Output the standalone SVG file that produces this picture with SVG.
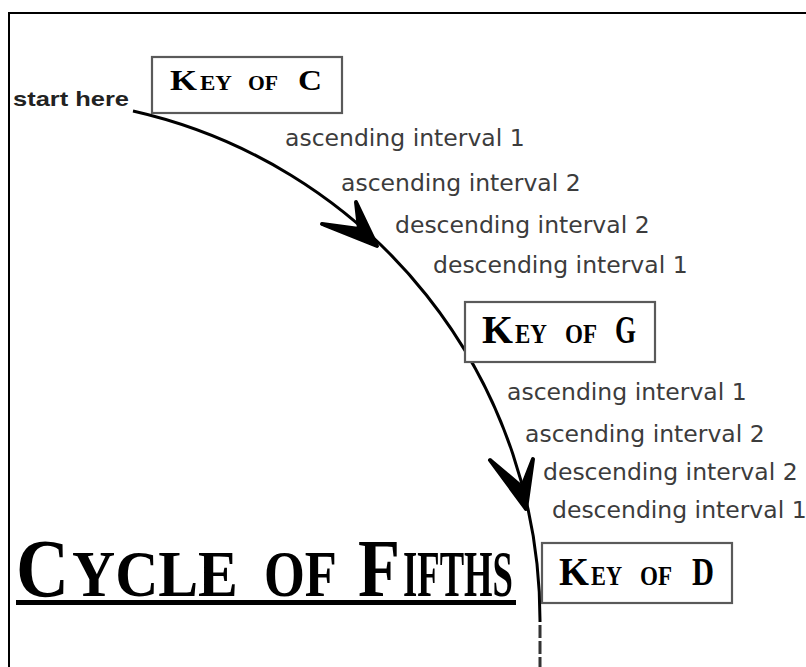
<svg xmlns="http://www.w3.org/2000/svg" width="806" height="667" viewBox="0 0 806 667">
<style>
.frame{fill:none;stroke:#000;stroke-width:2}
.box{fill:#fff;stroke:#5a5a5a;stroke-width:2.2}
.key{font-family:"Liberation Serif",serif;font-weight:bold;fill:#000}
.lbl{font-family:"DejaVu Sans",sans-serif;font-size:23.5px;fill:#3c3c3c}
.start{font-family:"Liberation Sans",sans-serif;font-weight:bold;font-size:21px;fill:#222}
.curve{fill:none;stroke:#000;stroke-width:3}
.dash{fill:none;stroke:#333;stroke-width:3;stroke-dasharray:13 3}
.head{fill:#000;stroke:#000;stroke-width:4;stroke-linejoin:round}
</style>
<rect width="806" height="667" fill="#fff"/>
<path class="frame" d="M9,667 V13 H806"/>
<g id="connectors">
<path class="curve" d="M133,111 A522,522 0 0 1 540,622"/>
<path class="dash" d="M540,625 V667"/>
<path class="head" d="M377,246 L322,224 L359,229 L356,202 Z"/>
<path class="head" d="M526,509 L490,460 L522,487 L533,459 Z"/>
</g>
<g id="start">
<text class="start" x="13" y="106" textLength="116" lengthAdjust="spacingAndGlyphs">start here</text>
</g>
<g id="keyC">
<rect class="box" x="152" y="57" width="190" height="56"/>
<text class="key" x="170" y="90" font-size="30" textLength="27" lengthAdjust="spacingAndGlyphs">K</text>
<text class="key" x="200" y="90" font-size="21" textLength="32" lengthAdjust="spacingAndGlyphs">EY</text>
<text class="key" x="248" y="90" font-size="21" textLength="30" lengthAdjust="spacingAndGlyphs">OF</text>
<text class="key" x="298" y="90" font-size="30" textLength="24" lengthAdjust="spacingAndGlyphs">C</text>
</g>
<g id="keyG">
<rect class="box" x="465" y="302" width="190" height="60"/>
<text class="key" x="482" y="343" font-size="39" textLength="31" lengthAdjust="spacingAndGlyphs">K</text>
<text class="key" x="515" y="343" font-size="28" textLength="32" lengthAdjust="spacingAndGlyphs">EY</text>
<text class="key" x="565" y="343" font-size="28" textLength="32" lengthAdjust="spacingAndGlyphs">OF</text>
<text class="key" x="615" y="343" font-size="39" textLength="21" lengthAdjust="spacingAndGlyphs">G</text>
</g>
<g id="keyD">
<rect class="box" x="542" y="543" width="190" height="60"/>
<text class="key" x="559" y="585" font-size="39" textLength="30" lengthAdjust="spacingAndGlyphs">K</text>
<text class="key" x="591" y="585" font-size="28" textLength="31" lengthAdjust="spacingAndGlyphs">EY</text>
<text class="key" x="640" y="585" font-size="28" textLength="32" lengthAdjust="spacingAndGlyphs">OF</text>
<text class="key" x="692" y="585" font-size="39" textLength="22" lengthAdjust="spacingAndGlyphs">D</text>
</g>
<g id="labels">
<text class="lbl" x="285" y="146">ascending interval 1</text>
<text class="lbl" x="341" y="191">ascending interval 2</text>
<text class="lbl" x="395" y="233">descending interval 2</text>
<text class="lbl" x="433" y="273">descending interval 1</text>
<text class="lbl" x="507" y="400">ascending interval 1</text>
<text class="lbl" x="525" y="442">ascending interval 2</text>
<text class="lbl" x="543" y="480">descending interval 2</text>
<text class="lbl" x="552" y="518">descending interval 1</text>
</g>
<g id="title">
<text class="key" font-size="83" transform="translate(16,596) scale(0.885,1)">C</text>
<text class="key" font-size="65" transform="translate(72,596) scale(0.919,1)">YCLE</text>
<text class="key" font-size="65" transform="translate(264,596) scale(0.808,1)">OF</text>
<text class="key" font-size="83" transform="translate(358,596) scale(0.828,1)">F</text>
<text class="key" font-size="65" transform="translate(403,596) scale(0.564,1)">IFTHS</text>
<rect x="16" y="600" width="500" height="5" fill="#000"/>
</g>
</svg>
